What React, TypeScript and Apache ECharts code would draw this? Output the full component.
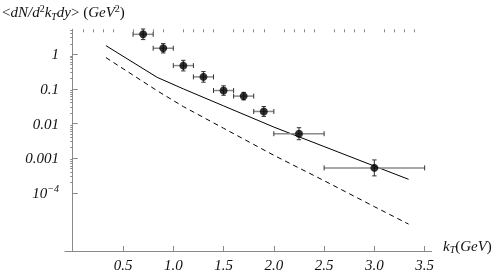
import React, { useEffect, useRef } from 'react';
import * as echarts from 'echarts';

// Measured points
const kT = [0.7, 0.9, 1.1, 1.3, 1.5, 1.7, 1.9, 2.25, 3.0];
const kTLow = [0.6, 0.8, 1.0, 1.2, 1.4, 1.6, 1.8, 2.0, 2.5];
const kTHigh = [0.8, 1.0, 1.2, 1.4, 1.6, 1.8, 2.0, 2.5, 3.5];
const yieldVal = [3.76, 1.49, 0.47, 0.222, 0.0897, 0.0619, 0.0223, 0.00508, 0.000524];
const yieldLow = [2.65, 1.09, 0.33, 0.156, 0.0653, 0.0481, 0.016, 0.00341, 0.000308];
const yieldHigh = [5.36, 2.03, 0.668, 0.316, 0.123, 0.0794, 0.031, 0.00757, 0.00089];

// Model curves
const solidK = [0.33, 0.84, 1.1, 1.5, 2.0, 2.5, 3.0, 3.34];
const solidY = [1.77, 0.215, 0.1, 0.0323, 0.0079, 0.00216, 0.00059, 0.000245];
const dashedK = [0.33, 0.6, 0.85, 1.1, 1.5, 2.0, 2.5, 3.0, 3.34];
const dashedY = [0.8, 0.249, 0.0845, 0.0308, 0.0073, 0.00121, 0.000224, 0.0000398, 0.0000125];

// Axis ticks
const xMajorTicks = [0.5, 1.0, 1.5, 2.0, 2.5, 3.0, 3.5];
const xMinorTicks = [0.1, 0.2, 0.3, 0.4, 0.6, 0.7, 0.8, 0.9, 1.1, 1.2, 1.3, 1.4, 1.6, 1.7, 1.8, 1.9, 2.1, 2.2, 2.3, 2.4, 2.6, 2.7, 2.8, 2.9, 3.1, 3.2, 3.3, 3.4];
const yMajorTicks = [0.0001, 0.001, 0.01, 0.1, 1];
const yMinorMantissas = [2, 3, 4, 5, 6, 7, 8, 9];
const yMinorDecades = [-4, -3, -2, -1, 0];

const SERIF = '"Liberation Serif", "DejaVu Serif", serif';

export default function App() {
  const ref = useRef<HTMLDivElement>(null);
  useEffect(() => {
    if (!ref.current) return;
    const chart = echarts.init(ref.current, null, { renderer: 'svg' });

    const yMinor: number[] = [];
    yMinorDecades.forEach((d) => {
      yMinorMantissas.forEach((m) => {
        const v = m * Math.pow(10, d);
        if (v < 5.25) yMinor.push(v);
      });
    });

    const points = kT.map((x, i) => [x, yieldVal[i]]);
    const errData = kT.map((x, i) => [x, yieldVal[i], kTLow[i], kTHigh[i], yieldLow[i], yieldHigh[i]]);

    const xMin = -0.077;
    const xMax = 3.57;
    const yMin = Math.pow(10, -5.68);
    const yMax = Math.pow(10, 0.72);

    const richBase = {
      n: { fontFamily: SERIF, fontStyle: 'italic', fontSize: 15, color: '#111', lineHeight: 18 },
      sup: { fontFamily: SERIF, fontStyle: 'italic', fontSize: 10, color: '#111', lineHeight: 10, verticalAlign: 'top' },
    };

    chart.setOption({
      animation: false,
      grid: { left: 65, top: 29.3, width: 366.7, height: 222.4, containLabel: false },
      xAxis: [
        {
          type: 'value', min: xMin, max: xMax,
          axisLine: { onZero: false, lineStyle: { color: '#8a8a8a', width: 1 } },
          axisTick: { inside: true, length: 5, customValues: xMajorTicks, lineStyle: { color: '#8a8a8a' } },
          axisLabel: {
            customValues: xMajorTicks, margin: 6,
            fontFamily: SERIF, fontStyle: 'italic', fontSize: 15, color: '#111',
            formatter: (v: number) => v.toFixed(1),
          },
          splitLine: { show: false },
        },
        {
          type: 'value', min: xMin, max: xMax,
          axisLine: { show: false, onZero: false },
          axisTick: { inside: true, length: 3, customValues: xMinorTicks, lineStyle: { color: '#8a8a8a' } },
          axisLabel: { show: false },
          splitLine: { show: false },
        },
      ],
      yAxis: [
        {
          type: 'log', min: yMin, max: yMax,
          axisLine: { onZero: true, onZeroAxisIndex: 0, lineStyle: { color: '#8a8a8a', width: 1 } },
          axisTick: { inside: true, length: 5, customValues: yMajorTicks, lineStyle: { color: '#8a8a8a' } },
          axisLabel: {
            customValues: yMajorTicks, margin: 6,
            fontFamily: SERIF, fontStyle: 'italic', fontSize: 15, color: '#111',
            formatter: (v: number) => {
              const e = Math.round(Math.log10(v));
              if (e <= -4) return '{n|10}{sup|−' + (-e) + '}';
              if (e === 0) return '1';
              return (Math.pow(10, e)).toFixed(-e);
            },
            rich: richBase,
          },
          splitLine: { show: false },
        },
        {
          type: 'log', min: yMin, max: yMax,
          axisLine: { show: false, onZero: true, onZeroAxisIndex: 0 },
          axisTick: { inside: true, length: 2.5, customValues: yMinor, lineStyle: { color: '#8a8a8a' } },
          axisLabel: { show: false },
          splitLine: { show: false },
        },
      ],
      graphic: [
        {
          type: 'text', left: 2, top: 3,
          style: {
            text: '{u|<}{n|dN/d}{sup|2}{n|k}{sub|T}{n|dy}{u|> (}{n|GeV}{sup|2}{u|)}',
            rich: {
              u: { fontFamily: SERIF, fontSize: 15, fill: '#111', lineHeight: 18 },
              n: { fontFamily: SERIF, fontStyle: 'italic', fontSize: 15, fill: '#111', lineHeight: 18 },
              sup: { fontFamily: SERIF, fontSize: 10, fill: '#111', lineHeight: 10, verticalAlign: 'top' },
              sub: { fontFamily: SERIF, fontStyle: 'italic', fontSize: 10, fill: '#111', lineHeight: 10, verticalAlign: 'bottom' },
            },
          },
        },
        {
          type: 'text', left: 443, top: 238,
          style: {
            text: '{n|k}{sub|T}{u|(}{n|GeV}{u|)}',
            rich: {
              u: { fontFamily: SERIF, fontSize: 15, fill: '#111', lineHeight: 18 },
              n: { fontFamily: SERIF, fontStyle: 'italic', fontSize: 15, fill: '#111', lineHeight: 18 },
              sub: { fontFamily: SERIF, fontStyle: 'italic', fontSize: 10, fill: '#111', lineHeight: 10, verticalAlign: 'bottom' },
            },
          },
        },
      ],
      series: [
        {
          type: 'line', name: 'solid', xAxisIndex: 0, yAxisIndex: 0,
          data: solidK.map((x, i) => [x, solidY[i]]),
          showSymbol: false, symbol: 'none',
          lineStyle: { color: '#000', width: 1 },
          z: 2,
        },
        {
          type: 'line', name: 'dashed', xAxisIndex: 0, yAxisIndex: 0,
          data: dashedK.map((x, i) => [x, dashedY[i]]),
          showSymbol: false, symbol: 'none',
          lineStyle: { color: '#000', width: 1, type: [5, 4] },
          z: 2,
        },
        {
          type: 'custom', name: 'errors', xAxisIndex: 0, yAxisIndex: 0,
          data: errData,
          encode: { x: 0, y: 1 },
          z: 3,
          renderItem: (params: any, api: any) => {
            const x = api.value(0);
            const y = api.value(1);
            const c = api.coord([x, y]);
            const xl = api.coord([api.value(2), y]);
            const xh = api.coord([api.value(3), y]);
            const yl = api.coord([x, api.value(4)]);
            const yh = api.coord([x, api.value(5)]);
            const capH = 2.5;
            const capW = 2.2;
            const capStyle = { stroke: '#333', lineWidth: 1 };
            return {
              type: 'group',
              children: [
                { type: 'line', shape: { x1: xl[0], y1: c[1], x2: xh[0], y2: c[1] }, style: { stroke: '#8a8a8a', lineWidth: 1.5 } },
                { type: 'line', shape: { x1: xl[0], y1: c[1] - capH, x2: xl[0], y2: c[1] + capH }, style: capStyle },
                { type: 'line', shape: { x1: xh[0], y1: c[1] - capH, x2: xh[0], y2: c[1] + capH }, style: capStyle },
                { type: 'line', shape: { x1: c[0], y1: yl[1], x2: c[0], y2: yh[1] }, style: { stroke: '#555', lineWidth: 1.2 } },
                { type: 'line', shape: { x1: c[0] - capW, y1: yl[1], x2: c[0] + capW, y2: yl[1] }, style: capStyle },
                { type: 'line', shape: { x1: c[0] - capW, y1: yh[1], x2: c[0] + capW, y2: yh[1] }, style: capStyle },
              ],
            };
          },
        },
        {
          type: 'scatter', name: 'data', xAxisIndex: 0, yAxisIndex: 0,
          data: points,
          symbol: 'circle', symbolSize: 8,
          itemStyle: { color: '#000' },
          z: 4,
        },
      ],
    });
    return () => chart.dispose();
  }, []);
  return <div ref={ref} style={{ position: 'fixed', left: 0, top: 0, width: 501, height: 272 }} />;
}
